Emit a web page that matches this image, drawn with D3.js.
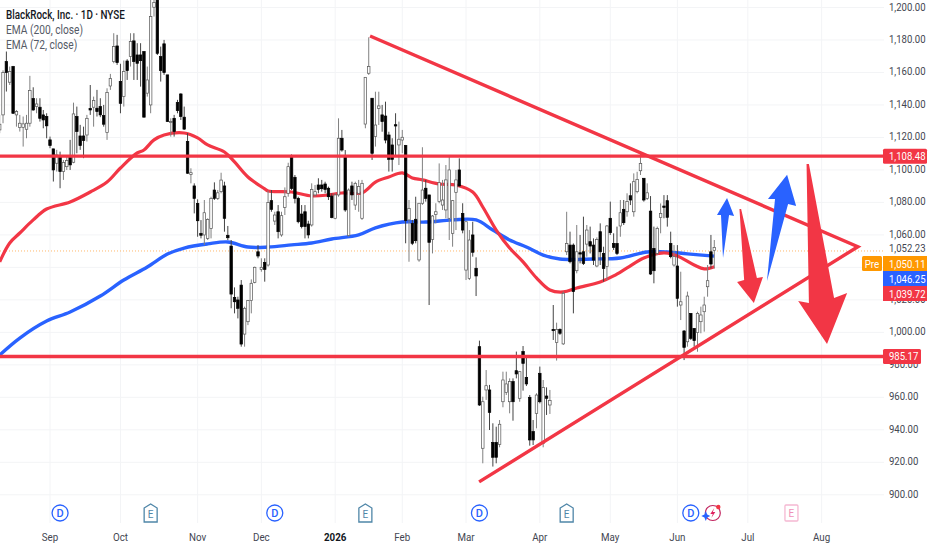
<!DOCTYPE html>
<html lang="en">
<head>
<meta charset="UTF-8">
<title>BlackRock, Inc. 1D</title>
<script src="https://d3js.org/d3.v7.min.js"></script>
<style>
  html, body { margin: 0; padding: 0; background: #fff; }
  svg { display: block; font-family: Roboto, sans-serif; }
</style>
</head>
<body>
<svg id="chart" width="932" height="550"></svg>
<script>
// daily bars, first one is 15 sessions before the Sep tick
const firstBar = -15;
const opens = [
1123.5,1132.7,1165.3,1152.7,1162.3,1132.7,1124.9,1125.1,1123.9,1127.6,1142.7,1137.8,1137.4,1132.7,1131.7,
1117.4,1111.9,1103.1,1107.2,1098,1101,1106.6,1103.7,1131.7,1119.8,1119.8,1120.4,1136.6,1137.4,1136.8,1137.8,1132.3,1121.9,1150.4,1165.3,1174.9,
1153.1,1143.9,1165.7,1168.4,1178,1169.4,1169.4,1171.5,1146,1138.8,1198.6,1203,1168.4,1176.2,1157.2,1128,1130.6,1140.2,1145.5,1131.3,
1116.4,1096.3,1089.2,1078.5,1060.2,1059.2,1057.1,1063.2,1086.7,1081.6,1085.7,1089.2,1059,1052.4,1021,1019.4,1028.5,998.5,1006.1,1019,1030.2,
1048.9,1038.1,1042.4,1040.8,1080.2,1067.7,1073.4,1059.2,1076.1,1084.7,1107.1,1094.5,1081.6,1072,1073.4,1065.9,
1065.3,1083.7,1089.8,1089.8,1090.4,1087.8,1083,1069.4,1083.7,1118.4,1107.1,1058.8,1089.2,1077.5,1084.7,1069.4,1127.1,1158.2,1142.9,1119.4,
1136.7,1132.7,1132,1120.4,1114.3,1126.7,1114.3,1117.3,1113.9,1068.4,1066.3,1068.8,1043.9,1078.6,1087.8,1083.7,1056.5,1071.8,1079.6,1077.5,
1074.5,1069.4,1060.2,1085.3,1099,1072.4,1037.7,1032.6,1059.2,1038.8,
990.8,928.6,964.3,964.3,932.2,932.2,931,957.1,962.7,957.1,969.4,976.1,959.2,987.8,972,959.8,938.8,950,974.5,931.6,960.6,955.1,1001.4,993.3,1001.4,992.5,
1048.9,1053,1053,1037.3,1048.3,1048.9,1053.6,1055.1,1053,1040.2,1061.2,1047.9,1039.8,1069.4,1054,1054,1064.7,1074.9,1073.4,1083.2,1073.4,1085.7,1098.5,1093.9,1081.6,
1073.8,1051,1047.9,1069.8,1076.9,1080.2,1054,1040.8,1040.2,1016.3,1000.4,993.8,1011.2,1002,999.4,1006.1,1012.2,1027.5,1048.9,1049.6
];
const closes = [
1127,1158.6,1158.6,1159.2,1133.7,1134.7,1127.6,1127.2,1127.6,1147.6,1135.7,1139.4,1130.6,1129.6,1126,
1113.9,1099,1108.2,1098,1103.5,1104.7,1102.1,1133.3,1122.5,1113.9,1117,1130.6,1135.7,1141.5,1134.7,1132.7,1127,1146.4,1154.9,1174.5,1164.7,
1139.8,1159.2,1159.8,1177.6,1165.3,1164.3,1165.9,1131.3,1154.1,1192.9,1201.5,1170.4,1159.8,1158.6,1128.6,1128.6,1122.5,1135.3,1131.7,1124,
1097,1097.3,1081.6,1067.9,1059,1072.8,1068.7,1081.6,1081.6,1085,1092.8,1069.4,1057.5,1023,1018.3,1014.3,992.4,1014.3,1019,1029.6,1039.4,
1046.3,1039.4,1038.1,1079,1074.9,1071.4,1061.2,1071,1082.6,1101,1087.7,1081.6,1067.3,1064.3,1064.3,1059.2,
1087.1,1085.7,1087.1,1087.5,1087.1,1082.6,1069.8,1083.7,1118.4,1111.2,1074.5,1086.7,1083.7,1090.8,1088.8,1090.8,1155.7,1162.3,1109.2,1126.5,
1138.2,1128.6,1117.3,1105.5,1105.5,1125.9,1117.8,1119,1068,1075.5,1054.1,1055.7,1078.6,1086.7,1081.6,1054.7,1070.8,1073.4,1091.2,1080.6,
1092.9,1099,1080.2,1092.9,1089.2,1062.2,1067.3,1056.1,1048.6,1034.1,
955.1,957.1,966.9,950.6,923.1,923.1,943.3,970.4,968,969.4,957.1,974.1,975.5,980.6,968,933.7,933.7,961.2,957.1,965.9,959.2,957.8,1000.6,1001.4,999,1023.5,
1054,1042.8,1024.5,1048.9,1047.5,1041.8,1062.2,1052.4,1043.8,1056.5,1048.9,1038.7,1064.7,1060.6,1051.6,1047.9,1072.8,1066.7,1079.6,1080.6,1091.8,1093.2,1103,1080.6,1085,
1035.3,1037.3,1063.2,1072.4,1076.1,1070,1045.9,1045.9,1020.4,1018.3,990.4,1021.8,995.9,994.5,1011.2,1010.2,1016.3,1031.2,1041.4,1051.6
];
const highs = [
1132.7,1160,1171.5,1162.3,1162.7,1135.7,1132.7,1131.7,1132.7,1156.6,1149.6,1142.9,1142.9,1135.7,1133.7,
1119.4,1111.9,1111.3,1110.2,1105.1,1107.2,1117.4,1140.2,1137.8,1126.6,1125.5,1132.7,1151,1143.9,1148,1142.9,1138.8,1149,1157.8,1182.7,1181.7,
1164,1166,1166.8,1182.7,1182.7,1176.6,1176.6,1171.5,1162.3,1205,1207,1205,1174.5,1178.6,1157.2,1130.6,1132.7,1141.9,1146,1137.8,
1121.5,1100,1090.8,1081,1068.3,1080.6,1069.4,1082.6,1091.4,1086.7,1097.3,1091.8,1064.7,1056.1,1027.1,1021.4,1031.6,1015.3,1019.4,1032,1039.8,
1053,1044.9,1044.9,1086.3,1086.7,1073.4,1077.5,1073.4,1088.3,1103.4,1108.5,1095.9,1082.6,1077.5,1077.5,1067.9,
1090.8,1089.8,1093.9,1092.9,1091.8,1088.8,1084.7,1084.7,1130.6,1123.5,1111.2,1087.7,1091.8,1091.8,1092.9,1092.9,1155.7,1180.2,1142.9,1146.9,
1146.9,1138.8,1140.8,1122.4,1118.4,1133.7,1128.6,1123.5,1114.3,1080.6,1068.4,1082.6,1078.6,1112.9,1092.9,1083.7,1071.4,1078.6,1103,1092.9,
1102,1107.1,1080.6,1099,1106.1,1078.6,1067.3,1062.2,1067.3,1045.5,
994.5,960.2,976.5,967.4,943.9,941.8,945.9,975.5,975.5,971.4,971.4,987.8,975.5,991.2,984.7,961.2,945.9,962.3,978.6,970.4,965.9,964.3,1016.3,1005.5,1002,1024.5,
1073.4,1061.2,1054,1065.3,1059.2,1070.4,1065.3,1064.3,1057.1,1057.7,1066.3,1052,1065.3,1079.6,1060.2,1064.3,1080.6,1080.6,1084.7,1090.8,1096.9,1097.9,1109.6,1093.9,1090.8,
1083,1064.3,1064.3,1078.5,1083.6,1083.6,1061.2,1053,1053,1036.7,1001,1024.5,1011.2,1002,1012.2,1015.3,1021.4,1040.8,1059.2,1056.1
];
const lows = [
1121.5,1127.6,1147,1151,1133.3,1125.5,1122.5,1113.3,1118.4,1125.5,1135.3,1133.7,1128.6,1124.5,1118.4,
1112.3,1091.9,1098,1087.8,1092.9,1099,1099,1103.1,1109.2,1111.3,1106.2,1116.4,1132.7,1125.5,1131.7,1131.3,1125.5,1117.4,1148,1164.3,1163.3,
1133.7,1137.8,1154.1,1162.3,1154.1,1154.1,1150,1131.3,1143.9,1133.7,1192.9,1169.4,1153.1,1157.2,1128.6,1119.4,1119.4,1133.7,1129.6,1123.5,
1096.6,1090.8,1072.4,1058.1,1057.1,1053,1056.1,1057.1,1080.6,1080.6,1084.7,1061.2,1056.1,1014.3,1011.2,1008.1,990.8,990.8,1004,1011.2,1029.6,
1044.9,1036.7,1030.6,1039.8,1073.4,1065.3,1057.1,1058.1,1071.4,1082.6,1086.7,1078.5,1066.3,1063.2,1057.1,1057.1,
1064.3,1082.6,1084.7,1085.7,1084.7,1080.6,1069.4,1068.8,1082.6,1110.2,1073.4,1058.2,1080.6,1074.5,1073.4,1068.4,1124.5,1157.2,1105.1,1113.3,
1126.5,1122.4,1115.3,1098,1098,1107.1,1102,1109.2,1054.1,1042.8,1053,1054.1,1042.8,1077.6,1079.6,1016.3,1047.9,1066.3,1078.6,1074.5,
1069.4,1056.1,1052,1062.2,1088.8,1060.2,1031.6,1031.6,1045.9,1021.8,
954.5,919.4,958.2,939.8,917.4,919.4,929.2,953.7,961.2,950,945.5,971.4,957.1,963.9,966.7,930.2,930.6,940.8,956.1,929.2,949,949.6,994.9,982.3,998,991.9,
1046.9,1041.8,1011.2,1035.7,1041.8,1040.8,1045.9,1047.9,1040.8,1039.4,1040.8,1030.6,1031.6,1059.2,1050,1046.9,1058.1,1065.3,1070.4,1077.5,1070.4,1084.7,1095.9,1079.6,1080.6,
1034.7,1029.6,1046.9,1060.2,1069.4,1064.3,1044.9,1039.8,1015.3,1007.1,982.6,990.8,994.9,990.8,987.7,999,1000,1021.4,1038.7,1038.7
];

// EMA readings: session number and value
const ema72Bars = [-15,-12,-9,-5,-1,6,12,17,21,26,28,31,34,40,44,47,52,55,59,64,65,72,78,83,87,93,95,97,101,105,108,111,116,121,126,129,133,137,141,145,149,153,157,164,168,172,177,183,187,192,195,198];
const ema72Values = [1042.7,1054.3,1060.4,1068.4,1075.1,1079.4,1085.5,1091.6,1100.2,1109.4,1111.2,1117.4,1120.4,1121.6,1118.6,1114.3,1110,1103.9,1094.7,1087.4,1086.1,1085.5,1083.1,1083.7,1084.9,1084.9,1088,1091.6,1094.7,1097.2,1094.1,1092.9,1090.4,1089.8,1085.5,1076.3,1062.2,1051.2,1042.7,1032.9,1025.5,1024.3,1026.7,1030.4,1034.1,1039,1045.1,1048.2,1046.3,1040.8,1038.4,1039.72];
const ema200Bars = [-15,-9,-1,6,15,22,29,35,40,47,53,59,65,72,78,84,92,97,105,112,120,127,132,137,142,147,152,162,170,178,184,190,198];
const ema200Values = [985.7,996.1,1006.5,1012,1021.8,1031.6,1039.6,1047.5,1051.2,1053.7,1054.9,1051.8,1051.8,1053.1,1054.3,1056.7,1059.2,1063.5,1067.1,1067.1,1068.4,1068.4,1062.2,1056.1,1051.8,1046.9,1044.5,1044.5,1045.1,1048.8,1048.8,1047.6,1046.25];

// hand drawn levels and triangle
const levels = [1108.48, 985.17];
const triangleBars = [95.4, 240.8, 127.9];
const trianglePrices = [1181, 1052, 908];

// drawn arrows, outline as [session, price]
const blueArrows = [
  [[200.6,1045.1],[202.4,1071.4],[203.9,1070.8],[201.8,1081.8],[198.8,1071.4],[200,1071.4]],
  [[213.7,1031],[220,1078.2],[222.4,1077],[219.7,1096],[214,1081.2],[216.1,1081.2]]
];
const redArrows = [
  [[205.5,1075.1],[206,1075.1],[210.7,1032.9],[212.5,1033.5],[209.8,1017.5],[204.8,1030.4],[206.9,1031.6]],
  [[225.5,1102.7],[226.2,1102.7],[233.7,1020.6],[237.6,1023.7],[231.6,992.4],[223,1018.8],[226.2,1017.5]]
];

const priceTicks = d3.range(900, 1201, 20);
const monthBars = [0,21,44,63,85,105,124,146,167,187,208,230];
const monthLabels = ["Sep","Oct","Nov","Dec","2026","Feb","Mar","Apr","May","Jun","Jul","Aug"];
const dividendBars = [3,67,128,191];
const earningsBars = [30,94,154];
const nextEarningsBar = 221;
const lastPrice = 1052.23;
const prePrice = 1050.11;
const ema200Last = 1046.25;
const ema72Last = 1039.72;

const paneRight = 884, paneBottom = 523;
const red = "#f23645", blue = "#2962ff", orange = "#ff9800";

const x = d3.scaleLinear().domain([0, 100]).range([50, 385.5]);
const y = d3.scaleLinear().domain([900, 1200]).range([494.8, 7.5]);
// the readings above were taken against the tick labels, the gridlines sit a touch lower
const read = d3.scaleLinear().domain([900, 1200]).range([899.88, 1201.56]);
const fmt = d3.format(",.2f");

const svg = d3.select("#chart");

// squeeze text to the narrower face of the original
function narrow(sel, k) {
  sel.attr("lengthAdjust", "spacingAndGlyphs")
    .attr("textLength", function() { return this.getComputedTextLength() * k; });
}

// grid
svg.append("g").selectAll("line").data(priceTicks).join("line")
  .attr("x1", 0).attr("x2", paneRight)
  .attr("y1", d => y(d)).attr("y2", d => y(d))
  .attr("stroke", "#f3f4f6");
svg.append("g").selectAll("line").data(monthBars).join("line")
  .attr("x1", d => x(d)).attr("x2", d => x(d))
  .attr("y1", 0).attr("y2", paneBottom)
  .attr("stroke", "#f3f4f6");

// pre market dots
svg.append("line")
  .attr("x1", 0).attr("x2", paneRight)
  .attr("y1", y(prePrice)).attr("y2", y(prePrice))
  .attr("stroke", "#ffb86b").attr("stroke-dasharray", "1 2");

// EMAs go under the candles
const line = d3.line().x(d => x(d[0])).y(d => y(read(d[1]))).curve(d3.curveCatmullRom);
svg.append("path").datum(d3.zip(ema200Bars, ema200Values)).attr("d", line)
  .attr("fill", "none").attr("stroke", blue).attr("stroke-width", 3.4);
svg.append("path").datum(d3.zip(ema72Bars, ema72Values)).attr("d", line)
  .attr("fill", "none").attr("stroke", red).attr("stroke-width", 3.2);

// candles
const bars = opens.map((o, i) => ({ bar: firstBar + i, o: read(o), c: read(closes[i]), h: read(highs[i]), l: read(lows[i]) }));
const candle = svg.append("g").selectAll("g").data(bars).join("g");
candle.append("line")
  .attr("x1", d => x(d.bar)).attr("x2", d => x(d.bar))
  .attr("y1", d => y(d.h)).attr("y2", d => y(d.l))
  .attr("stroke", d => d.c >= d.o ? "#808080" : "#444");
candle.append("rect")
  .attr("x", d => x(d.bar) - 1.25).attr("width", 2.5)
  .attr("y", d => y(Math.max(d.o, d.c)))
  .attr("height", d => Math.max(1, Math.abs(y(d.o) - y(d.c))))
  .attr("fill", d => d.c >= d.o ? "#fff" : "#000")
  .attr("stroke", d => d.c >= d.o ? "#555" : "#000")
  .attr("stroke-width", 0.7);

// levels and triangle
svg.append("g").selectAll("line").data(levels).join("line")
  .attr("x1", 0).attr("x2", paneRight)
  .attr("y1", d => y(d)).attr("y2", d => y(d))
  .attr("stroke", red).attr("stroke-width", 3.4);
svg.append("path")
  .attr("d", d3.line().x(d => x(d[0])).y(d => y(read(d[1]))).curve(d3.curveLinear)(d3.zip(triangleBars, trianglePrices)))
  .attr("fill", "none").attr("stroke", red).attr("stroke-width", 3.4)
  .attr("stroke-linejoin", "miter");

// arrows
const outline = d3.line().x(d => x(d[0])).y(d => y(read(d[1]))).curve(d3.curveLinearClosed);
svg.append("g").selectAll("path").data(blueArrows).join("path")
  .attr("d", outline).attr("fill", blue);
svg.append("g").selectAll("path").data(redArrows).join("path")
  .attr("d", outline).attr("fill", red);

// price scale, 1,040 is fully under the tags so it gets no label
svg.append("g").selectAll("text").data(priceTicks.filter(d => d !== 1040)).join("text")
  .attr("x", 889).attr("y", d => y(d) - 1).attr("dy", "0.35em")
  .attr("font-size", 11.5).attr("fill", "#434651")
  .text(d => fmt(d))
  .call(narrow, 0.83);

function priceTag(value, color, tagW) {
  const yy = y(value);
  svg.append("rect").attr("x", 883).attr("y", yy - 7.5).attr("width", tagW).attr("height", 15)
    .attr("rx", 1.5).attr("fill", color);
  svg.append("text").attr("x", 889).attr("y", yy).attr("dy", "0.35em")
    .attr("font-size", 11.5).attr("fill", "#fff").text(fmt(value))
    .call(narrow, 0.83);
}
priceTag(levels[0], red, 44);
priceTag(levels[1], red, 38);

// last price sits in plain text, with the stacked tags below it
svg.append("text").attr("x", 889).attr("y", y(lastPrice)).attr("dy", "0.35em")
  .attr("font-size", 11.5).attr("fill", "#434651").text(fmt(lastPrice))
  .call(narrow, 0.83);
const stacked = [[prePrice, orange], [ema200Last, blue], [ema72Last, red]];
stacked.forEach((s, i) => {
  const top = 256 + i * 15;
  svg.append("rect").attr("x", 883).attr("y", top).attr("width", 44).attr("height", 15)
    .attr("fill", s[1]);
  svg.append("text").attr("x", 889).attr("y", top + 7.5).attr("dy", "0.35em")
    .attr("font-size", 11.5).attr("fill", "#fff").text(fmt(s[0]))
    .call(narrow, 0.83);
});
svg.append("rect").attr("x", 862).attr("y", 256).attr("width", 20).attr("height", 15)
  .attr("rx", 1.5).attr("fill", orange);
svg.append("text").attr("x", 872).attr("y", 263.5).attr("dy", "0.35em").attr("text-anchor", "middle")
  .attr("font-size", 11.5).attr("fill", "#fff").text("Pre")
  .call(narrow, 0.85);

// month labels
svg.append("g").selectAll("text").data(monthBars).join("text")
  .attr("x", d => x(d)).attr("y", 537).attr("dy", "0.35em").attr("text-anchor", "middle")
  .attr("font-size", 11.5)
  .attr("font-weight", (d, i) => monthLabels[i] === "2026" ? 700 : 400)
  .attr("fill", (d, i) => monthLabels[i] === "2026" ? "#131722" : "#434651")
  .text((d, i) => monthLabels[i])
  .call(narrow, 0.85);

// dividend and earnings badges
const iconY = 513;
const div = svg.append("g").selectAll("g").data(dividendBars).join("g")
  .attr("transform", d => `translate(${x(d)},${iconY})`);
div.append("circle").attr("r", 8).attr("fill", "#fff").attr("stroke", blue).attr("stroke-width", 1.3);
div.append("text").attr("text-anchor", "middle").attr("dy", "0.36em")
  .attr("font-size", 11).attr("font-weight", 500).attr("fill", blue).text("D");

const housePath = "M-6.5,-5 L0,-9 L6.5,-5 L6.5,9 L-6.5,9 Z";
const earn = svg.append("g").selectAll("g").data(earningsBars).join("g")
  .attr("transform", d => `translate(${x(d)},${iconY})`);
earn.append("path").attr("d", housePath).attr("fill", "#fff").attr("stroke", "#4f86a8").attr("stroke-width", 1.3);
earn.append("text").attr("text-anchor", "middle").attr("y", 1).attr("dy", "0.36em")
  .attr("font-size", 10).attr("fill", "#4f86a8").text("E");

// next earnings, pale pink
const nextE = svg.append("g").attr("transform", `translate(${x(nextEarningsBar)},${iconY})`);
nextE.append("rect").attr("x", -6.5).attr("y", -8).attr("width", 13).attr("height", 16).attr("rx", 1)
  .attr("fill", "#fff").attr("stroke", "#f5b8d2").attr("stroke-width", 1.3);
nextE.append("text").attr("text-anchor", "middle").attr("dy", "0.36em")
  .attr("font-size", 10).attr("fill", "#f090b8").text("E");

// split badge next to the last dividend
const flash = svg.append("g").attr("transform", `translate(${x(191) + 22},${iconY})`);
flash.append("circle").attr("r", 7.5).attr("fill", "#fff").attr("stroke", "#c2245f").attr("stroke-width", 1.2);
flash.append("path").attr("d", "M1.5,-5 L-2.5,1 L0,1 L-1.5,5 L2.5,-1 L0,-1 Z").attr("fill", "#e0205f");
flash.append("circle").attr("cx", 5.5).attr("cy", -6).attr("r", 2.2).attr("fill", "#f23645");
flash.append("path").attr("d", "M-7,-2 L-5.6,1.6 L-2.5,3 L-5.6,4.4 L-7,8 L-8.4,4.4 L-11.5,3 L-8.4,1.6 Z").attr("fill", blue);

// legend
const legend = svg.append("g");
legend.append("text").attr("x", 6).attr("y", 19).attr("font-size", 12).attr("font-weight", 500)
  .attr("fill", "#131722").text("BlackRock, Inc. · 1D · NYSE").call(narrow, 0.82);
legend.append("text").attr("x", 6).attr("y", 34).attr("font-size", 12).attr("fill", "#555a66").text("EMA (200, close)").call(narrow, 0.85);
legend.append("text").attr("x", 6).attr("y", 49).attr("font-size", 12).attr("fill", "#555a66").text("EMA (72, close)").call(narrow, 0.85);
</script>
</body>
</html>
